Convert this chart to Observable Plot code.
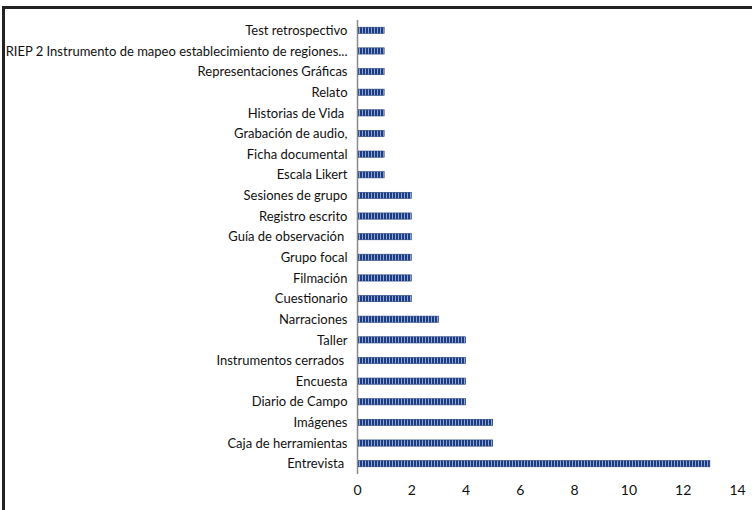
<!DOCTYPE html>
<html><head><meta charset="utf-8">
<script src="https://cdn.jsdelivr.net/npm/d3@7"></script>
<script src="https://cdn.jsdelivr.net/npm/@observablehq/plot@0.6"></script>
<style>
html,body{margin:0;padding:0;background:#fff;}
#wrap{position:relative;width:752px;height:510px;overflow:hidden;}
#frame{position:absolute;left:2px;top:6px;width:760px;height:520px;border-top:3px solid #222;border-left:3px solid #222;box-sizing:border-box;pointer-events:none;}
#chart{position:absolute;left:0;top:0;}
</style></head>
<body>
<div id="wrap"><div id="chart"></div><div id="frame"></div></div>
<script>
const categories = [
  "Test retrospectivo",
  "RIEP 2 Instrumento de mapeo establecimiento de regiones...",
  "Representaciones Gráficas",
  "Relato",
  "Historias de Vida\u00a0",
  "Grabación de audio,",
  "Ficha documental",
  "Escala Likert",
  "Sesiones de grupo",
  "Registro escrito",
  "Guía de observación\u00a0",
  "Grupo focal",
  "Filmación",
  "Cuestionario",
  "Narraciones",
  "Taller",
  "Instrumentos cerrados\u00a0",
  "Encuesta",
  "Diario de Campo",
  "Imágenes",
  "Caja de herramientas",
  "Entrevista\u00a0"
];
const values = [1,1,1,1,1,1,1,1,2,2,2,2,2,2,3,4,4,4,4,5,5,13];
const xTicks = [0,2,4,6,8,10,12,14];

const data = categories.map((c,i)=>({category:c, value:values[i]}));

const chart = Plot.plot({
  width: 752,
  height: 510,
  marginLeft: 357,
  marginRight: 15,
  marginTop: 20,
  marginBottom: 36,
  style: {fontFamily: "Lato, sans-serif", fontSize: "13px", color: "#111", background: "transparent"},
  x: {domain: [0,14], label: null},
  y: {domain: categories, padding: 0, round: false, label: null},
  marks: [
    Plot.axisY({tickSize: 0, tickPadding: 10, fontSize: 13}),
    Plot.axisX({ticks: xTicks, tickSize: 0, tickPadding: 11, fontSize: 14}),
    Plot.barX(data, {x1: 0, x2: "value", y: "category", fill: "url(#stripes)", stroke: "#23407f", strokeWidth: 0.6, insetLeft: 1, insetTop: 7.2, insetBottom: 7.2}),
    Plot.ruleX([0], {stroke: "#8a8a8a", strokeWidth: 1.5})
  ]
});
const ns = "http://www.w3.org/2000/svg";
const defs = document.createElementNS(ns, "defs");
defs.innerHTML = `<pattern id="stripes" patternUnits="userSpaceOnUse" width="3" height="6">
  <rect x="0" y="0" width="3" height="6" fill="#1f3c7e"/>
  <rect x="2" y="0" width="1" height="6" fill="#8aa6da"/>
</pattern>`;
chart.insertBefore(defs, chart.firstChild);
document.getElementById("chart").appendChild(chart);
</script>
</body></html>
